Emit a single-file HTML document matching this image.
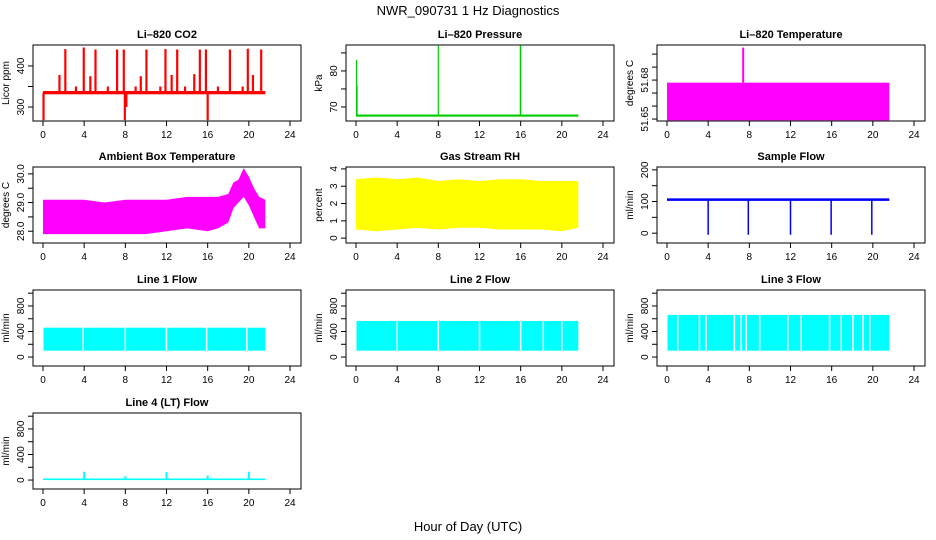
<!DOCTYPE html>
<html><head><meta charset="utf-8"><style>
html,body{margin:0;padding:0;background:#fff}
svg{display:block;font-family:"Liberation Sans",sans-serif}
</style></head><body>
<svg id="c" width="936" height="540" viewBox="0 0 936 540">
<text x="468" y="15" text-anchor="middle" font-size="13">NWR_090731  1 Hz Diagnostics</text>
<text x="468" y="531" text-anchor="middle" font-size="13">Hour of Day (UTC)</text>
</svg>
<script>
// ---- data ----
const xTicks = [0,4,8,12,16,20,24];
const co2Base = [331, 339];
const co2SpikeHours = [2.17,3.96,5.1,7.2,7.85,10.05,11.9,13.04,15.24,15.83,18.16,19.9,21.2,1.6,4.6,9.5,12.5,14.7,20.4,3.2,6.3,9.0,11.4,13.8,17.0,19.4,0.05,7.95,16.0,8.1];
const co2SpikeVals = [441,445,440,440,440,440,441,440,440,440,440,442,440,378,375,375,378,380,378,350,350,350,350,350,350,350,268,268,268,300];
const presBase = 67.6;
const presSpikeHours = [0.05,0.1,8.0,16.0,15.97];
const presSpikeVals = [83,76,87,87,87];
const tempRect = [51.649, 51.678];
const tempSpikeHour = 7.4;
const tempSpikeVal = 51.705;
const ambHours = [0,2,4,6,8,10,12,14,16,17,18,18.5,19,19.5,20,20.5,21,21.6];
const ambMax = [29.1,29.1,29.1,29.0,29.1,29.1,29.1,29.2,29.2,29.2,29.3,29.7,29.8,30.2,29.9,29.5,29.2,29.1];
const ambMin = [27.9,27.9,27.9,27.9,27.9,27.9,28.0,28.1,28.0,28.1,28.3,28.8,29.0,29.2,28.9,28.5,28.1,28.1];
const rhHours = [0,2,4,6,8,10,12,14,16,18,20,21.6];
const rhMax = [3.4,3.5,3.4,3.5,3.3,3.4,3.3,3.4,3.4,3.3,3.3,3.3];
const rhMin = [0.5,0.4,0.5,0.6,0.5,0.6,0.6,0.5,0.5,0.5,0.4,0.6];
const sfBase = [102, 110];
const sfDipHours = [4.0,7.9,12.0,15.95,19.9];
const sfDipVals = [-5,-5,-5,-5,-5];
const flowEnd = 21.6;
const l1Range = [100, 460];
const l1Gaps = [3.9,8.0,12.0,15.9,19.8];
const l2Range = [100, 565];
const l2Gaps = [4.0,8.0,12.0,16.0,18.2,20.0];
const l3Range = [100, 660];
const l3Gaps = [1.04,3.15,3.8,6.55,7.2,7.7,9.0,11.74,13.04,15.8,16.93,18.06,19.04,19.7];
const l4Base = [0, 25];
const l4SpikeHours = [4.0,8.0,12.0,16.0,20.0];
const l4SpikeVals = [130,60,125,70,130];

// ---- drawing ----
const svg = document.getElementById('c');
const NS = 'http://www.w3.org/2000/svg';
function mk(tag, attrs, parent){
  const e = document.createElementNS(NS, tag);
  for (const k in attrs) e.setAttribute(k, attrs[k]);
  (parent||svg).appendChild(e);
  return e;
}
const W = 268, H = 76;
function panel(name, L, T, title, ylab, ylim, yt, ylabels){
  const g = mk('g', {});
  
  
  const sx = h => L + 10 + h * 247 / 24;
  const sy = v => T + H - (v - ylim[0]) / (ylim[1] - ylim[0]) * H;
  const t = mk('text', {x: L + W/2, y: T - 7, 'text-anchor': 'middle', 'font-size': 11, 'font-weight': 'bold'}, g);
  t.textContent = title;
  
  
  const xa = mk('g', {}, g);
  
  
  xTicks.forEach(h => {
    mk('line', {x1: sx(h), x2: sx(h), y1: T+H, y2: T+H+5, stroke: '#000'}, xa);
    const tx = mk('text', {x: sx(h), y: T+H+17, 'text-anchor': 'middle', 'font-size': 10}, xa);
    tx.textContent = h;
  });
  const ya = mk('g', {}, g);
  
  
  yt.forEach((v, i) => {
    mk('line', {x1: L-5, x2: L, y1: sy(v), y2: sy(v), stroke: '#000'}, ya);
    if (ylabels[i] !== '') {
      const tx = mk('text', {x: L-9, y: sy(v), 'text-anchor': 'middle', 'font-size': 10, transform: `rotate(-90 ${L-9} ${sy(v)})`}, ya);
      tx.textContent = ylabels[i];
    }
  });
  const yl = mk('text', {x: L-24, y: T+H/2, 'text-anchor': 'middle', 'font-size': 10, transform: `rotate(-90 ${L-24} ${T+H/2})`}, g);
  yl.textContent = ylab;
  
  
  const data = mk('g', {}, g);
  
  
  mk('rect', {x: L, y: T, width: W, height: H, fill: 'none', stroke: '#000'}, g);
  return {sx, sy, g: data};
}
function band(p, h0, h1, lo, hi, col){
  mk('rect', {x: p.sx(h0), y: p.sy(hi), width: Math.max(p.sx(h1)-p.sx(h0),0), height: p.sy(lo)-p.sy(hi), fill: col}, p.g);
}
function spikes(p, hs, vs, base, col, w){
  hs.forEach((h, i) => mk('line', {x1: p.sx(h), x2: p.sx(h), y1: p.sy(base), y2: p.sy(vs[i]), stroke: col, 'stroke-width': w}, p.g));
}
function env(p, hs, mx, mn, col){
  let d = hs.map((h,i)=>(i?'L':'M')+p.sx(h)+','+p.sy(mx[i])).join('');
  for (let i = hs.length-1; i >= 0; i--) d += 'L'+p.sx(hs[i])+','+p.sy(mn[i]);
  mk('path', {d: d+'Z', fill: col}, p.g);
}
function gapped(p, range, gaps, col){
  band(p, 0.05, flowEnd, range[0], range[1], col);
  gaps.forEach(h => mk('line', {x1: p.sx(h), x2: p.sx(h), y1: p.sy(range[1])-1, y2: p.sy(range[0])+1, stroke: '#fff', 'stroke-width': 1.5}, p.g));
}
const C1 = 33, C2 = 346, C3 = 657, R = [45, 167, 290, 413];

let p = panel('co2', C1, R[0], 'Li–820 CO2', 'Licor ppm', [266, 451], [300,350,400], ['300','','400']);
band(p, 0, 21.6, co2Base[0], co2Base[1], '#f00');
spikes(p, co2SpikeHours, co2SpikeVals, 335, '#f00', 2.2);

p = panel('pressure', C2, R[0], 'Li–820 Pressure', 'kPa', [66.1, 87.2], [70,75,80,85], ['70','','80','']);
band(p, 0, 21.6, presBase-0.3, presBase+0.3, '#0c0');
spikes(p, presSpikeHours, presSpikeVals, presBase, '#0c0', 1.2);

p = panel('li820-temperature', C3, R[0], 'Li–820 Temperature', 'degrees C', [51.6485, 51.707], [51.65,51.66,51.67,51.68,51.69,51.70], ['51.65','','','51.68','','']);
band(p, 0, 21.6, tempRect[0], tempRect[1], '#f0f');
spikes(p, [tempSpikeHour], [tempSpikeVal], tempRect[1], '#f0f', 2);

p = panel('ambient-temperature', C1, R[1], 'Ambient Box Temperature', 'degrees C', [27.59, 30.24], [28,28.5,29,29.5,30], ['28.0','','29.0','','30.0']);
env(p, ambHours, ambMax, ambMin, '#f0f');

p = panel('gas-stream-rh', C2, R[1], 'Gas Stream RH', 'percent', [-0.28, 4.11], [0,1,2,3,4], ['0','1','2','3','4']);
env(p, rhHours, rhMax, rhMin, '#ff0');

p = panel('sample-flow', C3, R[1], 'Sample Flow', 'ml/min', [-31, 209], [0,50,100,150,200], ['0','','100','','200']);
band(p, 0, 21.6, sfBase[0], sfBase[1], '#00f');
spikes(p, sfDipHours, sfDipVals, 106, '#00f', 1.5);

const fl = [-140, 1050], ft = [0,200,400,600,800,1000], fll = ['0','','400','','800',''];
p = panel('line1-flow', C1, R[2], 'Line 1 Flow', 'ml/min', fl, ft, fll);
gapped(p, l1Range, l1Gaps, '#0ff');
p = panel('line2-flow', C2, R[2], 'Line 2 Flow', 'ml/min', fl, ft, fll);
gapped(p, l2Range, l2Gaps, '#0ff');
p = panel('line3-flow', C3, R[2], 'Line 3 Flow', 'ml/min', fl, ft, fll);
gapped(p, l3Range, l3Gaps, '#0ff');
p = panel('line4-flow', C1, R[3], 'Line 4 (LT) Flow', 'ml/min', fl, ft, fll);
band(p, 0, 21.6, l4Base[0], l4Base[1], '#0ff');
spikes(p, l4SpikeHours, l4SpikeVals, 10, '#0ff', 2);
</script>
</body></html>
